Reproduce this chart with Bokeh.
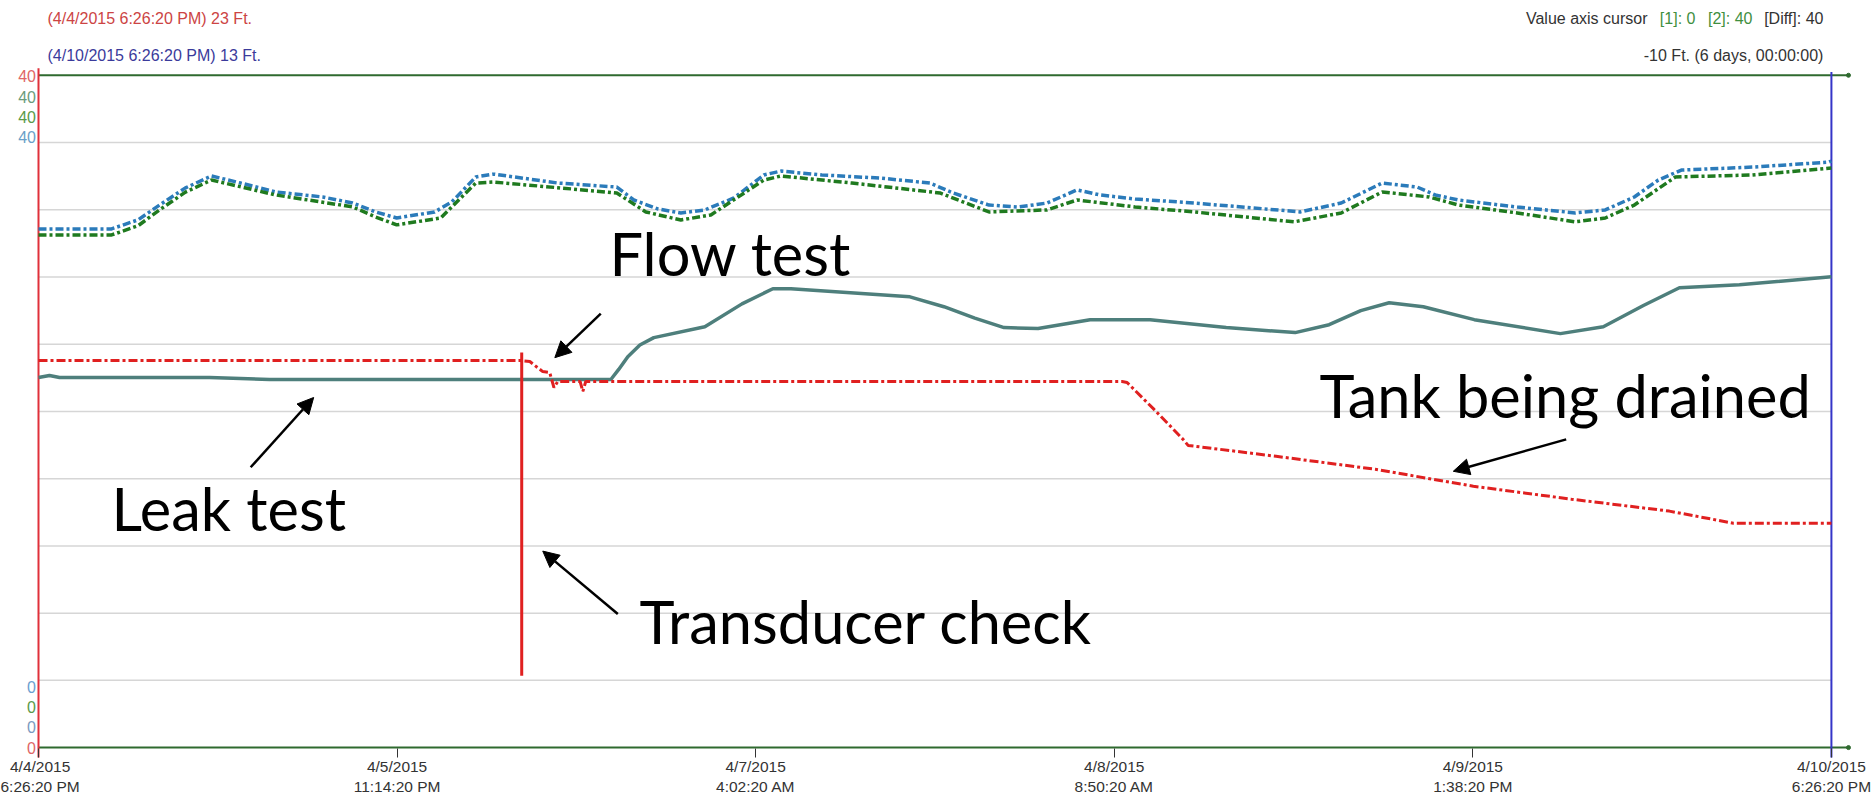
from bokeh.plotting import figure
from bokeh.models import Label, Arrow, NormalHead, FixedTicker, Range1d
from bokeh.embed import file_html
from bokeh.resources import INLINE

# ---- data: time in hours since 4/4/2015 6:26:20 PM, values in Ft. ----
tick_hours = [0, 28.8, 57.6, 86.4, 115.2, 144]
tick_labels = ["4/4/2015\n6:26:20 PM", "4/5/2015\n11:14:20 PM", "4/7/2015\n4:02:20 AM",
               "4/8/2015\n8:50:20 AM", "4/9/2015\n1:38:20 PM", "4/10/2015\n6:26:20 PM"]
grid_ft = [4, 8, 12, 16, 20, 24, 28, 32, 36]

blue_t = [0, 5.87, 8.0, 9.72, 11.8, 13.90, 16.23, 19.05, 22.82, 25.23, 27.08, 28.77, 31.82,
          33.19, 35.12, 36.56, 41.71, 46.45, 47.81, 49.74, 51.59, 53.52, 55.85, 58.26, 59.63,
          62.92, 67.66, 71.60, 73.45, 76.34, 78.67, 81.00, 83.41, 85.26, 88.07, 92.82,
          97.56, 101.33, 104.63, 107.92, 110.73, 112.18, 114.03, 118.77, 123.43, 125.84,
          128.17, 130.10, 131.95, 137.66, 143.77, 144]
blue_ft = [30.86, 30.86, 31.40, 32.28, 33.30, 34.01, 33.59, 33.06, 32.76, 32.40, 31.87, 31.51,
           31.87, 32.46, 33.95, 34.12, 33.59, 33.35, 32.58, 32.05, 31.81, 31.99, 32.70, 34.07,
           34.30, 34.07, 33.88, 33.59, 33.00, 32.28, 32.16, 32.40, 33.18, 32.88, 32.64, 32.40,
           32.11, 31.87, 32.40, 33.59, 33.35, 32.88, 32.58, 32.16, 31.81, 31.99,
           32.76, 33.77, 34.36, 34.54, 34.83, 34.90]

green_t = [0, 5.87, 8.0, 9.72, 11.8, 13.90, 19.05, 25.23, 27.08, 28.77, 32.30, 35.12, 36.56,
           46.45, 48.78, 51.59, 54.00, 58.26, 59.63, 65.33, 72.40, 76.34, 81.00, 83.41, 88.07,
           92.82, 100.85, 104.63, 107.92, 111.70, 114.03, 118.77, 123.43, 125.84, 128.17,
           131.47, 137.66, 144]
green_ft = [30.50, 30.50, 31.05, 31.99, 33.05, 33.77, 32.88, 32.17, 31.57, 31.10, 31.51, 33.59,
            33.65, 33.00, 31.87, 31.39, 31.69, 33.77, 34.01, 33.59, 33.00, 31.87, 31.99, 32.58,
            32.17, 31.87, 31.28, 31.81, 33.06, 32.76, 32.28, 31.81, 31.28, 31.51, 32.28,
            33.95, 34.07, 34.48]

teal_t = [0, 0.88, 1.69, 13.74, 18.56, 22.58, 37.04, 45.97, 46.6, 47.33, 48.3, 49.42, 53.52,
          56.5, 58.98, 60.43, 69.99, 72.72, 75.2, 77.55, 80.28, 84.46, 89.28, 95.39, 100.93,
          103.66, 106.2, 108.48, 111.22, 115.32, 122.23, 125.68, 128.9, 131.79, 136.61, 144]
teal_ft = [22.02, 22.14, 22.02, 22.02, 21.90, 21.90, 21.90, 21.90, 22.50, 23.26, 23.95, 24.39,
           25.04, 26.40, 27.30, 27.30, 26.82, 26.23, 25.55, 24.99, 24.93, 25.46, 25.46, 24.99,
           24.69, 25.16, 26.00, 26.47, 26.23, 25.46, 24.63, 25.04, 26.30, 27.36, 27.54, 28.01]

red_t = [0, 38.7, 39.46, 40.50, 41.06, 41.40, 41.70, 43.50, 43.72, 43.95, 87.03, 87.43,
         89.60, 91.93, 92.33, 99.40, 107.36, 115.24, 123.11, 130.98, 136.13, 144]
red_ft = [23.03, 23.03, 22.97, 22.37, 22.31, 21.42, 21.78, 21.78, 21.19, 21.78, 21.78, 21.72,
          20.12, 18.34, 17.98, 17.33, 16.56, 15.55, 14.78, 14.07, 13.35, 13.35]

spike_t = [38.81, 38.81]
spike_ft = [23.50, 4.27]

# ---- figure (frame fills the canvas; axis strip below) ----
p = figure(width=1872, height=797, x_range=Range1d(-3.052, 147.30), y_range=Range1d(-0.59, 44.45),
           output_backend="svg", toolbar_location=None, y_axis_location=None,
           min_border_left=0, min_border_right=0, min_border_top=0, min_border_bottom=38)
p.outline_line_color = None
p.background_fill_color = "white"
p.border_fill_color = "white"
p.xgrid.visible = False
p.ygrid.visible = False

xa = p.xaxis[0]
xa.ticker = FixedTicker(ticks=tick_hours)
xa.major_label_overrides = {h: lab for h, lab in zip(tick_hours, tick_labels)}
xa.axis_line_color = None
xa.major_tick_in = 9
xa.major_tick_out = 0
xa.major_tick_line_color = "#333333"
xa.minor_tick_line_color = None
xa.major_label_standoff = 0
xa.major_label_text_font = "Liberation Sans"
xa.major_label_text_font_size = "15.5px"
xa.major_label_text_color = "#333333"

t_end = 145.37
green_c = "#2f6a2f"
# horizontal grid from the tick values
p.segment(x0=[0] * len(grid_ft), y0=grid_ft, x1=[144] * len(grid_ft), y1=grid_ft,
          line_color="#d6d6d6", line_width=1.5)
# frame lines: value 40 / value 0 (green), cursors (red, blue)
p.segment(x0=[0, 0], y0=[40, 0], x1=[t_end, t_end], y1=[40, 0], line_color=green_c, line_width=2)
p.scatter([t_end, t_end], [40, 0], size=4, color=green_c)
p.segment(x0=[0], y0=[40.42], x1=[0], y1=[-0.95], line_color="#e0303a", line_width=2)
p.segment(x0=[144], y0=[40.2], x1=[144], y1=[-0.95], line_color="#3535c8", line_width=2)

# series
p.line(blue_t, blue_ft, line_color="#2b7bba", line_width=3.5, line_dash="8 3 3 3")
p.line(green_t, green_ft, line_color="#1f7a1f", line_width=3.5, line_dash="8 3 3 3")
p.line(teal_t, teal_ft, line_color="#4e7f7c", line_width=3.5)
p.line(red_t, red_ft, line_color="#e02020", line_width=3, line_dash="9 3 3 3")
p.line(spike_t, spike_ft, line_color="#e02020", line_width=3)

def lab(x, y, text, color, size="15px", align="left", font="Liberation Sans", baseline="middle"):
    p.add_layout(Label(x=x, y=y, text=text, text_color=color, text_font=font,
                       text_font_size=size, text_align=align, text_baseline=baseline))

# header texts
hs = "16px"
lab(0.72, 43.38, "(4/4/2015 6:26:20 PM) 23 Ft.", "#cc4444", size=hs)
lab(0.72, 41.19, "(4/10/2015 6:26:20 PM) 13 Ft.", "#3b3b9b", size=hs)
lab(129.23, 43.38, "Value axis cursor", "#333333", size=hs, align="right")
lab(133.08, 43.38, "[1]: 0", "#3f8f3f", size=hs, align="right")
lab(137.66, 43.38, "[2]: 40", "#3f8f3f", size=hs, align="right")
lab(143.36, 43.38, "[Diff]: 40", "#333333", size=hs, align="right")
lab(143.36, 41.19, "-10 Ft. (6 days, 00:00:00)", "#333333", size=hs, align="right")

# stacked value-axis labels
for yv, c in [(39.94, "#e06666"), (38.7, "#6b9b7b"), (37.5, "#5a9a4a"), (36.3, "#6a9fc8")]:
    lab(-0.2, yv, "40", c, size=hs, align="right")
for yv, c in [(3.62, "#6aa0d0"), (2.43, "#5a9a4a"), (1.25, "#7a9ac0"), (0.0, "#e06666")]:
    lab(-0.2, yv, "0", c, size=hs, align="right")

# annotations
big = "59.5px"
lab(45.86, 29.42, "Flow test", "black", size=big, font="Lato", baseline="alphabetic")
lab(5.86, 14.23, "Leak test", "black", size=big, font="Lato", baseline="alphabetic")
lab(48.27, 7.52, "Transducer check", "black", size=big, font="Lato", baseline="alphabetic")
lab(102.88, 20.99, "Tank being drained", "black", size=big, font="Lato", baseline="alphabetic")

for xs, ys, xe, ye in [(45.16, 25.82, 41.47, 23.20), (17.04, 16.68, 22.10, 20.83),
                       (46.53, 7.95, 40.50, 11.69), (122.7, 18.34, 113.63, 16.44)]:
    p.add_layout(Arrow(end=NormalHead(size=16, fill_color="black", line_color="black"),
                       x_start=xs, y_start=ys, x_end=xe, y_end=ye,
                       line_color="black", line_width=2.5))

open("out.html", "w").write(file_html(p, INLINE))
